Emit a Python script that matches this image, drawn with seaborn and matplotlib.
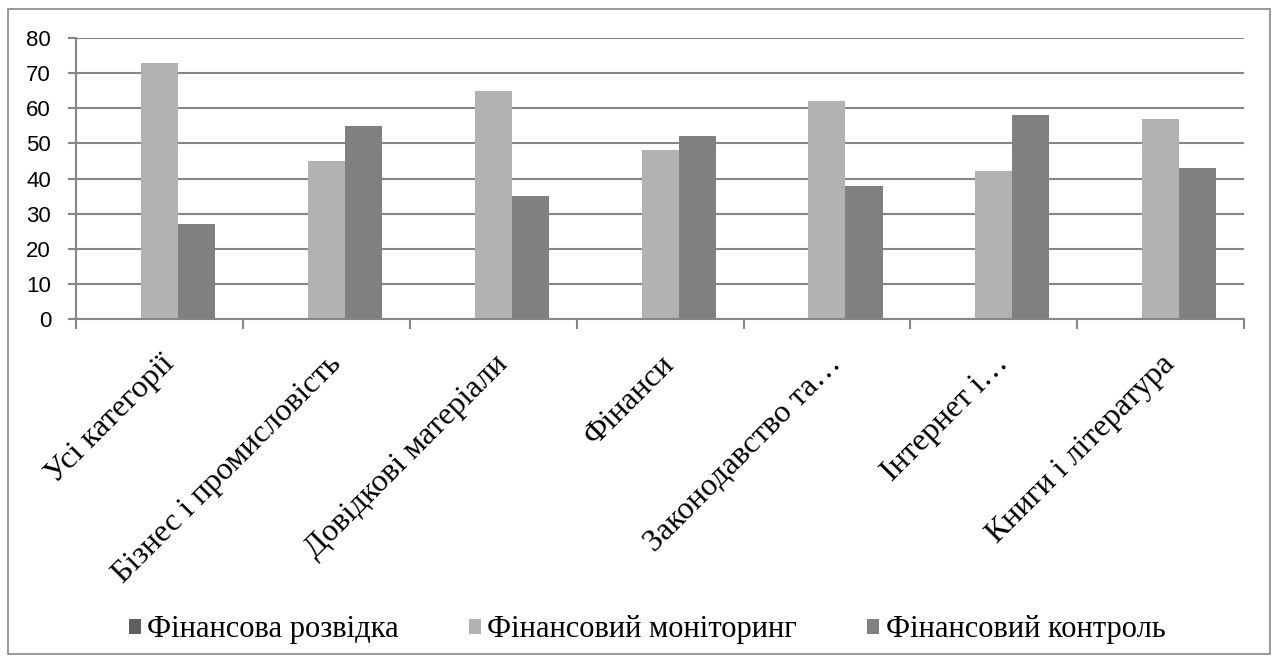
import pandas as pd
import matplotlib.pyplot as plt
import seaborn as sns
from matplotlib.patches import Rectangle
from matplotlib.font_manager import FontProperties, findfont

SERIF = findfont(FontProperties(family="Liberation Serif"))
SANS = findfont(FontProperties(family="Liberation Sans"))

categories = [
    "Усі категорії",
    "Бізнес і промисловість",
    "Довідкові матеріали",
    "Фінанси",
    "Законодавство та…",
    "Інтернет і…",
    "Книги і література",
]
series_names = ["Фінансова розвідка", "Фінансовий моніторинг", "Фінансовий контроль"]
rozvidka = [0, 0, 0, 0, 0, 0, 0]
monitoring = [73, 45, 65, 48, 62, 42, 57]
kontrol = [27, 55, 35, 52, 38, 58, 43]
colors = ["#5f5f5f", "#b2b2b2", "#808080"]

rows = []
for name, vals in zip(series_names, [rozvidka, monitoring, kontrol]):
    for cat, v in zip(categories, vals):
        rows.append({"category": cat, "series": name, "value": v})
df = pd.DataFrame(rows)

fig = plt.figure(figsize=(12.76, 6.61), dpi=100)
ax = fig.add_axes([0.0596, 0.5174, 0.9154, 0.4251])

sns.barplot(
    data=df, x="category", y="value", hue="series",
    order=categories, hue_order=series_names, palette=colors,
    width=0.667, gap=0, errorbar=None, saturation=1, ax=ax,
    edgecolor="none", linewidth=0,
)

ax.set_ylim(0, 80)
ax.set_xlim(-0.5, len(categories) - 0.5)
ax.yaxis.grid(True, color="#868686", linewidth=1.5)
ax.xaxis.grid(False)
ax.set_axisbelow(True)
for side in ["top", "right"]:
    ax.spines[side].set_visible(False)
for side in ["left", "bottom"]:
    ax.spines[side].set_color("#868686")
    ax.spines[side].set_linewidth(1.5)

ax.set_xlabel("")
ax.set_ylabel("")

# tick marks at category boundaries
ax.set_xticks([i + 0.5 for i in range(-1, len(categories))], minor=True)
ax.tick_params(axis="x", which="minor", length=7, width=1.5, color="#868686", bottom=True)
ax.tick_params(axis="x", which="major", length=0, pad=22)
ax.tick_params(axis="y", length=6, width=1.5, color="#868686", left=True, pad=12)

ax.set_xticks(range(len(categories)))
ax.set_xticklabels(categories, rotation=45, ha="right", rotation_mode="anchor",
                   fontproperties=FontProperties(fname=SERIF, size=23), color="black")
ax.set_yticks(range(0, 81, 10))
ax.set_yticklabels([str(v) for v in range(0, 81, 10)],
                   fontproperties=FontProperties(fname=SANS, size=16), color="black")

handles, labels = ax.get_legend_handles_labels()
ax.legend_.remove()
fig.legend(handles, labels, loc="center", bbox_to_anchor=(0.507, 0.047), ncol=3,
           frameon=False, prop=FontProperties(fname=SERIF, size=22),
           handlelength=0.4, handleheight=0.4, handletextpad=0.2, columnspacing=2.3)

fig.patches.append(Rectangle((0.006, 0.011), 0.989, 0.976, transform=fig.transFigure,
                             fill=False, edgecolor="#868686", linewidth=1.2))

fig.savefig("out.png", dpi=100)
